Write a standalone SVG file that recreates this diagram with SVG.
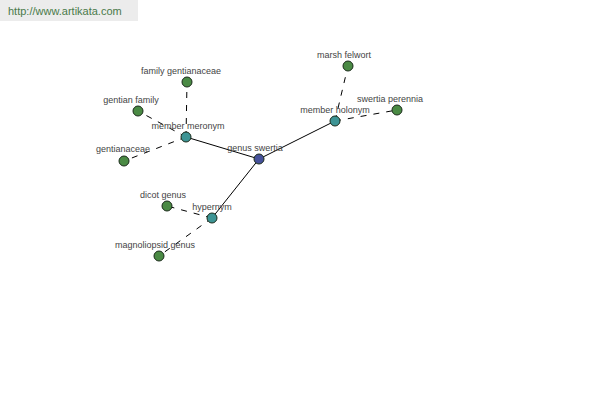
<svg xmlns="http://www.w3.org/2000/svg" width="600" height="400" viewBox="0 0 600 400">
<style>
text{font-family:"Liberation Sans",Arial,sans-serif;}
.lbl{font-size:9px;fill:#444;text-anchor:middle;}
.n{stroke:#1a2a1a;stroke-width:1;}
.leaf{fill:#4a8a44;}
.rel{fill:#3d9494;}
.root{fill:#46519a;}
.solid{stroke:#000;stroke-width:1;fill:none;}
.dash{stroke:#000;stroke-width:1;fill:none;stroke-dasharray:6,7;}
</style>
<rect width="600" height="400" fill="#fff"/>
<rect x="0" y="0" width="138" height="21" fill="#ececec"/>
<text x="8" y="15" font-size="11" fill="#4a7a4a">http://www.artikata.com</text>
<g id="connectors">
<line class="solid" x1="259" y1="159" x2="186" y2="137"/>
<line class="solid" x1="259" y1="159" x2="335" y2="121"/>
<line class="solid" x1="259" y1="159" x2="212" y2="218"/>
<line class="dash" x1="186" y1="137" x2="187" y2="82"/>
<line class="dash" x1="186" y1="137" x2="138" y2="111"/>
<line class="dash" x1="186" y1="137" x2="124" y2="161"/>
<line class="dash" x1="335" y1="121" x2="348" y2="66"/>
<line class="dash" x1="335" y1="121" x2="397" y2="110"/>
<line class="dash" x1="212" y1="218" x2="167" y2="206"/>
<line class="dash" x1="212" y1="218" x2="159" y2="256"/>
</g>
<g id="family-gentianaceae"><circle class="n leaf" cx="187" cy="82" r="5"/><text class="lbl" x="181" y="74">family gentianaceae</text></g>
<g id="gentian-family"><circle class="n leaf" cx="138" cy="111" r="5"/><text class="lbl" x="131" y="103">gentian family</text></g>
<g id="gentianaceae"><circle class="n leaf" cx="124" cy="161" r="5"/><text class="lbl" x="123" y="152">gentianaceae</text></g>
<g id="member-meronym"><circle class="n rel" cx="186" cy="137" r="5"/><text class="lbl" x="188" y="129">member meronym</text></g>
<g id="genus-swertia"><circle class="n root" cx="259" cy="159" r="5"/><text class="lbl" x="255" y="151">genus swertia</text></g>
<g id="member-holonym"><circle class="n rel" cx="335" cy="121" r="5"/><text class="lbl" x="335" y="113">member holonym</text></g>
<g id="marsh-felwort"><circle class="n leaf" cx="348" cy="66" r="5"/><text class="lbl" x="344" y="58">marsh felwort</text></g>
<g id="swertia-perennia"><circle class="n leaf" cx="397" cy="110" r="5"/><text class="lbl" x="390" y="102">swertia perennia</text></g>
<g id="hypernym"><circle class="n rel" cx="212" cy="218" r="5"/><text class="lbl" x="212" y="210">hypernym</text></g>
<g id="dicot-genus"><circle class="n leaf" cx="167" cy="206" r="5"/><text class="lbl" x="163" y="198">dicot genus</text></g>
<g id="magnoliopsid-genus"><circle class="n leaf" cx="159" cy="256" r="5"/><text class="lbl" x="155" y="248">magnoliopsid genus</text></g>
</svg>
